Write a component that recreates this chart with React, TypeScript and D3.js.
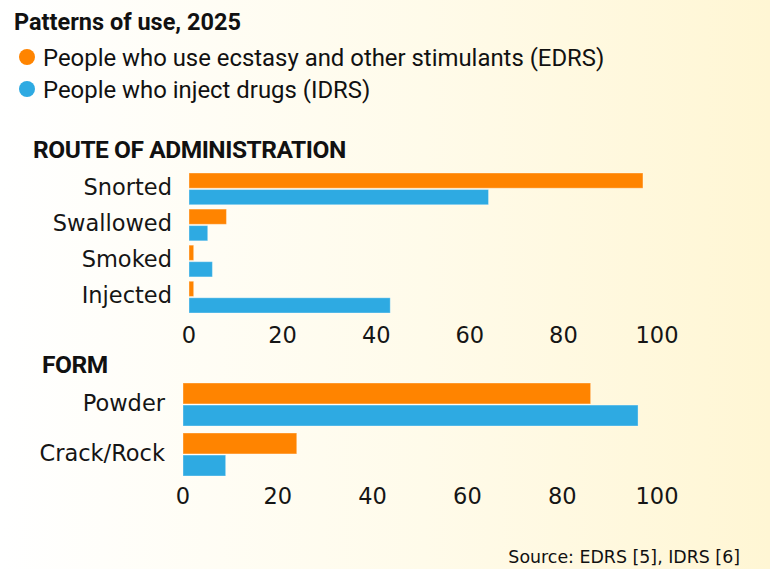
import React from "react";
import * as d3 from "d3";

const W = 770;
const H = 569;

const seriesKeys = ["EDRS", "IDRS"];
const seriesLabels = [
  "People who use ecstasy and other stimulants (EDRS)",
  "People who inject drugs (IDRS)",
];
const seriesColors = ["#ff8400", "#2eaae2"];

const routeCategories = ["Snorted", "Swallowed", "Smoked", "Injected"];
const routeEDRS = [97, 8, 1, 1];
const routeIDRS = [64, 4, 5, 43];

const formCategories = ["Powder", "Crack/Rock"];
const formEDRS = [86, 24];
const formIDRS = [96, 9];

const xTicks = [0, 20, 40, 60, 80, 100];

const labelFont = "'DejaVu Sans', 'Noto Sans', sans-serif";
const headFont = "Roboto, 'Noto Sans', sans-serif";

type PanelProps = {
  title: string;
  titleX: number;
  titleY: number;
  categories: string[];
  edrs: number[];
  idrs: number[];
  x0: number;
  x1: number;
  y0: number;
  y1: number;
  padInner: number;
  subPad: number;
  labelX: number;
  tickY: number;
};

function Panel(p: PanelProps) {
  const x = d3.scaleLinear().domain([0, 100]).range([p.x0, p.x1]);
  const y = d3
    .scaleBand<string>()
    .domain(p.categories)
    .range([p.y0, p.y1])
    .paddingInner(p.padInner)
    .paddingOuter(0);
  const sub = d3
    .scaleBand<string>()
    .domain(seriesKeys)
    .range([0, y.bandwidth()])
    .paddingInner(p.subPad);
  const vals = [p.edrs, p.idrs];
  return (
    <g>
      <text
        x={p.titleX}
        y={p.titleY}
        fontFamily={headFont}
        fontWeight={700}
        fontSize={24.5}
        letterSpacing={-0.45}
        fill="#111"
      >
        {p.title}
      </text>
      {p.categories.map((c, i) => (
        <g key={c}>
          {seriesKeys.map((k, j) => (
            <rect
              key={k}
              x={x(0)}
              y={(y(c) as number) + (sub(k) as number)}
              width={x(vals[j][i]) - x(0)}
              height={sub.bandwidth()}
              fill={seriesColors[j]}
              stroke="#ffffff"
              strokeOpacity={0.35}
              strokeWidth={1}
            />
          ))}
          <text
            x={p.labelX}
            y={(y(c) as number) + y.bandwidth() / 2}
            dy="0.27em"
            textAnchor="end"
            fontFamily={labelFont}
            fontSize={22.5}
            fill="#151515"
          >
            {c}
          </text>
        </g>
      ))}
      {xTicks.map((t) => (
        <text
          key={t}
          x={x(t)}
          y={p.tickY}
          textAnchor="middle"
          fontFamily={labelFont}
          fontSize={22.5}
          fill="#151515"
        >
          {t}
        </text>
      ))}
    </g>
  );
}

export default function App() {
  return (
    <svg
      width={W}
      height={H}
      style={{ position: "absolute", left: 0, top: 0, display: "block" }}
    >
      <defs>
        <linearGradient id="bg" x1="0" x2="1" y1="0" y2="0">
          <stop offset="0%" stopColor="#ffffff" />
          <stop offset="55%" stopColor="#fffbea" />
          <stop offset="100%" stopColor="#fff6d4" />
        </linearGradient>
      </defs>
      <rect x={0} y={0} width={W} height={H} fill="url(#bg)" />
      <text
        x={14}
        y={30}
        fontFamily={headFont}
        fontWeight={700}
        fontSize={23.5}
        fill="#111"
      >
        Patterns of use, 2025
      </text>
      {seriesLabels.map((s, i) => (
        <g key={s}>
          <circle cx={27} cy={57 + i * 32} r={8} fill={seriesColors[i]} />
          <text
            x={43}
            y={57 + i * 32}
            dy="0.36em"
            fontFamily={headFont}
            fontSize={23.9}
            fill="#111"
          >
            {s}
          </text>
        </g>
      ))}
      <Panel
        title="ROUTE OF ADMINISTRATION"
        titleX={33}
        titleY={158}
        categories={routeCategories}
        edrs={routeEDRS}
        idrs={routeIDRS}
        x0={189}
        x1={657}
        y0={173}
        y1={313}
        padInner={0.12}
        subPad={0.08}
        labelX={172}
        tickY={343}
      />
      <Panel
        title="FORM"
        titleX={42}
        titleY={373}
        categories={formCategories}
        edrs={formEDRS}
        idrs={formIDRS}
        x0={183}
        x1={657}
        y0={383}
        y1={476}
        padInner={0.14}
        subPad={0.05}
        labelX={165}
        tickY={504}
      />
      <text
        x={740}
        y={563}
        textAnchor="end"
        fontFamily={labelFont}
        fontSize={17.4}
        fill="#111"
      >
        Source: EDRS [5], IDRS [6]
      </text>
    </svg>
  );
}
